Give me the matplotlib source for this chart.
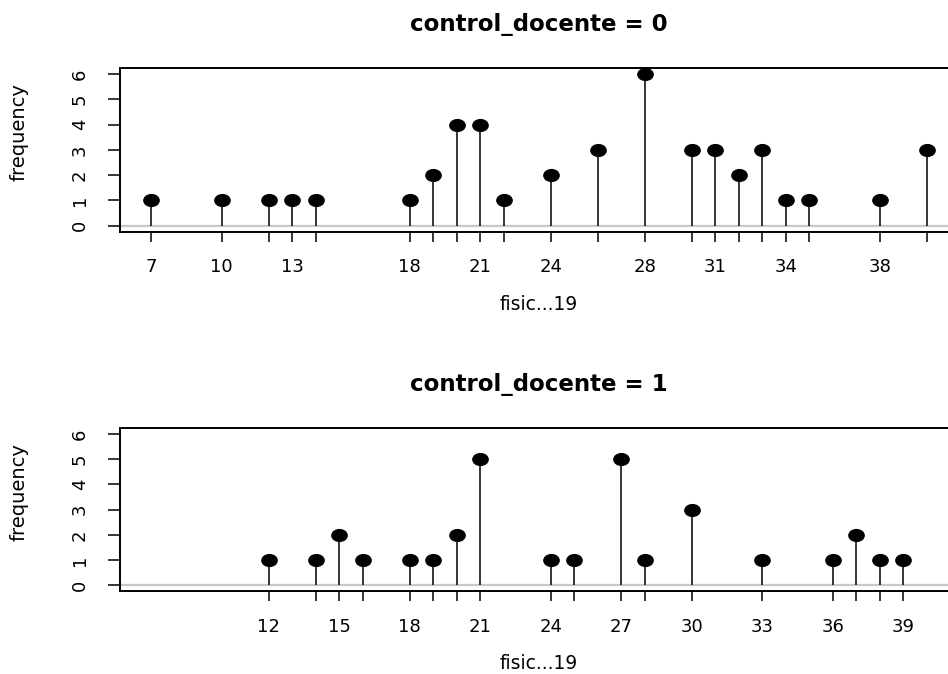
import numpy as np
import matplotlib
matplotlib.use("Agg")
import matplotlib.pyplot as plt
from matplotlib.path import Path
from matplotlib.transforms import Affine2D

# values
x_doc0 = [7, 10, 12, 13, 14, 18, 19, 20, 21, 22, 24, 26, 28, 30, 31, 32, 33, 34, 35, 38, 40]
freq_doc0 = [1, 1, 1, 1, 1, 1, 2, 4, 4, 1, 2, 3, 6, 3, 3, 2, 3, 1, 1, 1, 3]
xlab_doc0 = [7, 10, 13, 18, 21, 24, 28, 31, 34, 38]

x_doc1 = [12, 14, 15, 16, 18, 19, 20, 21, 24, 25, 27, 28, 30, 33, 36, 37, 38, 39]
freq_doc1 = [1, 1, 2, 1, 1, 1, 2, 5, 1, 1, 5, 1, 3, 1, 1, 2, 1, 1]
xlab_doc1 = [12, 15, 18, 21, 24, 27, 30, 33, 36, 39]

titles = ["control_docente = 0", "control_docente = 1"]
y_ticks = [0, 1, 2, 3, 4, 5, 6]

plt.rcParams['font.family'] = ['DejaVu Sans']

# slightly wide dot, like the R pch=16 on this device
dot = Path.unit_circle().transformed(Affine2D().scale(1.3, 1.0))

all_x = x_doc0 + x_doc1
lo, hi = min(all_x), max(all_x)
xpad = 0.04 * (hi - lo)
ypad = 0.04 * (max(y_ticks) - min(y_ticks))

fig = plt.figure(figsize=(9.48, 6.74), dpi=100)
W, H = 948, 674
boxes = [(120, 68, 231.8), (120, 428, 591.3)]
panels = [(x_doc0, freq_doc0, xlab_doc0), (x_doc1, freq_doc1, xlab_doc1)]

for (left, top, bottom), (xs, fs, labs), title in zip(boxes, panels, titles):
    ax = fig.add_axes([left / W, 1 - bottom / H, (958 - left) / W, (bottom - top) / H])
    ax.axhline(0, color='#c8c8c8', lw=1.6, zorder=1)
    ax.vlines(xs, 0, fs, color='black', lw=1.1, zorder=2)
    ax.plot(xs, fs, linestyle='none', marker=dot, markersize=11,
            color='black', zorder=3)

    ax.set_xlim(lo - xpad, hi + xpad)
    ax.set_ylim(min(y_ticks) - ypad, max(y_ticks) + ypad)

    ax.set_xticks(xs)
    ax.set_xticklabels([str(v) if v in labs else '' for v in xs])
    ax.set_yticks(y_ticks)
    ax.set_yticklabels([str(v) for v in y_ticks], rotation=90, va='center')

    ax.tick_params(axis='x', length=7, width=1.1, pad=12, labelsize=13)
    ax.tick_params(axis='y', length=8.5, width=1.1, pad=14, labelsize=13)
    for sp in ax.spines.values():
        sp.set_linewidth(1.4)

    ax.set_xlabel("fisic...19", fontsize=13.5, va='center')
    ax.xaxis.set_label_coords(0.5, -0.445)
    ax.set_ylabel("frequency", fontsize=14, va='center', ha='center')
    ax.yaxis.set_label_coords(-0.121, 0.61)

    ax.text(0.5, 1.265, title, transform=ax.transAxes, ha='center', va='center',
            fontsize=16.5, fontweight='bold')

fig.savefig("out.png", dpi=100)
